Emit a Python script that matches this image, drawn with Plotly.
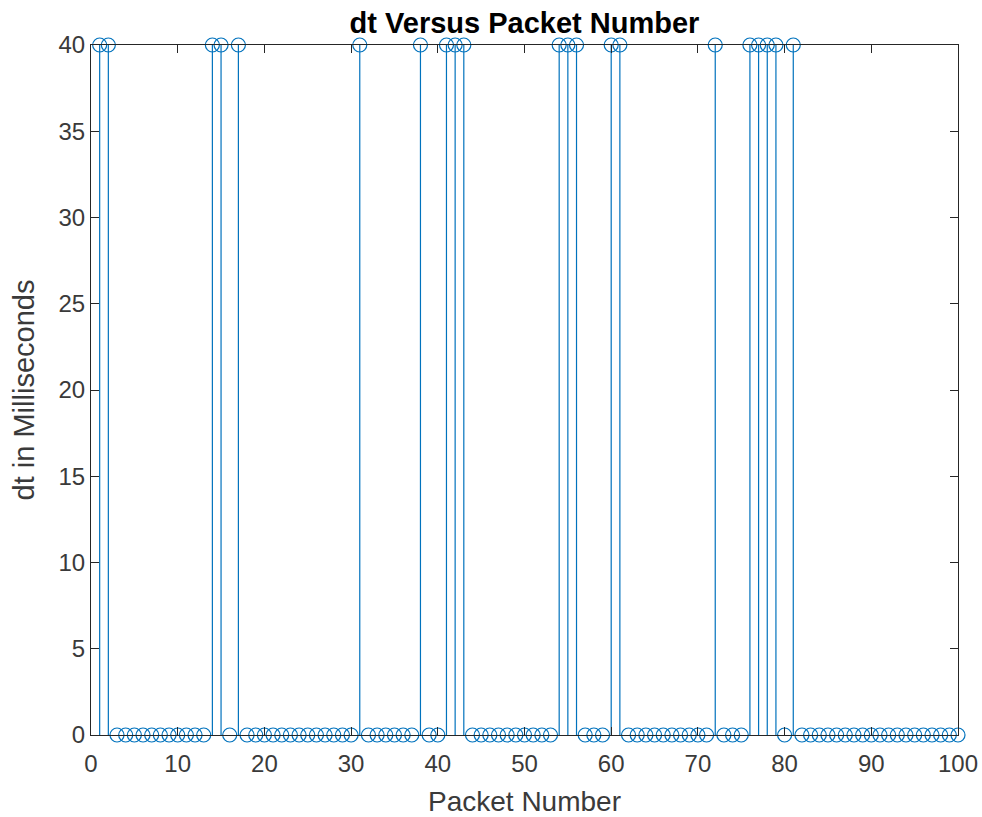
import plotly.graph_objects as go

packet_number = list(range(1, 101))
dt_ms = [
    40, 40, 0, 0, 0, 0, 0, 0, 0, 0,
    0, 0, 0, 40, 40, 0, 40, 0, 0, 0,
    0, 0, 0, 0, 0, 0, 0, 0, 0, 0,
    40, 0, 0, 0, 0, 0, 0, 40, 0, 0,
    40, 40, 40, 0, 0, 0, 0, 0, 0, 0,
    0, 0, 0, 40, 40, 40, 0, 0, 0, 40,
    40, 0, 0, 0, 0, 0, 0, 0, 0, 0,
    0, 40, 0, 0, 0, 40, 40, 40, 40, 0,
    40, 0, 0, 0, 0, 0, 0, 0, 0, 0,
    0, 0, 0, 0, 0, 0, 0, 0, 0, 0,
]
x_ticks = [0, 10, 20, 30, 40, 50, 60, 70, 80, 90, 100]
y_ticks = [0, 5, 10, 15, 20, 25, 30, 35, 40]

blue = "#0072BD"
axc = "#262626"
lab = "#3a3a3a"

sx, sy = [], []
for x, y in zip(packet_number, dt_ms):
    sx += [x, x, None]
    sy += [0, y, None]

W, H = 982, 817
L, R, T, B = 91, 24, 45, 82
fig = go.Figure()
fig.add_trace(go.Scatter(x=sx, y=sy, mode="lines", line=dict(color=blue, width=1.2),
                         hoverinfo="skip", showlegend=False))
fig.add_trace(go.Scatter(x=packet_number, y=dt_ms, mode="markers",
                         marker=dict(symbol="circle-open", size=14, color=blue,
                                     line=dict(width=1.2, color=blue)),
                         showlegend=False, cliponaxis=False))

fig.update_layout(
    width=W, height=H,
    paper_bgcolor="white", plot_bgcolor="white",
    margin=dict(l=L, r=R, t=T, b=B, autoexpand=False),
    font=dict(family="Liberation Sans, Arial, sans-serif", color=lab),
    title=dict(text="<b>dt Versus Packet Number</b>", x=(L + W - R) / 2 / W, xanchor="center",
               y=1 - 23 / H, yanchor="middle", yref="container",
               font=dict(size=29, color="black")),
)
fig.update_xaxes(
    range=[0, 100], tickvals=x_ticks, ticks="inside", ticklen=8, tickcolor=axc,
    showline=True, linecolor=axc, linewidth=1, mirror="ticks", showgrid=False, zeroline=False,
    tickfont=dict(size=24, color=lab), ticklabelstandoff=7, ticklabeloverflow="allow",
    title=dict(text="Packet Number", font=dict(size=28, color=lab), standoff=22),
)
fig.update_yaxes(
    range=[0, 40], tickvals=y_ticks, ticks="inside", ticklen=8, tickcolor=axc,
    showline=True, linecolor=axc, linewidth=1, mirror="ticks", showgrid=False, zeroline=False,
    tickfont=dict(size=24, color=lab), ticklabeloverflow="allow",
    title=dict(text="dt in Milliseconds", font=dict(size=29, color=lab), standoff=15),
)

fig.write_html("out.html", config={"displayModeBar": False},
               post_script="document.body.style.margin='0';")
